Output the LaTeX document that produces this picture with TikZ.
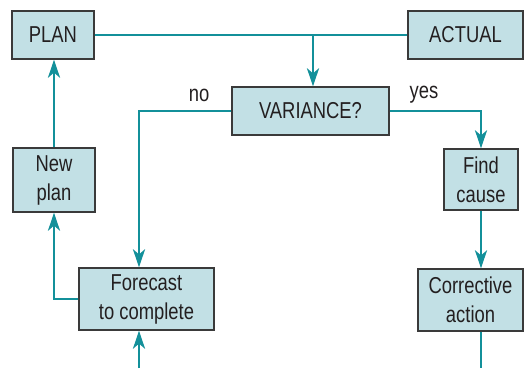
\documentclass[tikz,border=0pt]{standalone}
\usepackage{fontspec}
\setmainfont{Liberation Sans}[FakeStretch=0.8]
\usepackage{tikz}
\usetikzlibrary{arrows.meta,positioning,calc}
\definecolor{Flow}{HTML}{13909A}
\definecolor{Box}{HTML}{C2E0E5}
\definecolor{Edge}{HTML}{3A3A3A}
\definecolor{Ink}{HTML}{231F20}
\tikzset{
  stepbox/.style={draw=Edge,fill=Box,line width=1.3pt,inner sep=0pt,align=center,text=Ink,font=\fontsize{23}{29}\selectfont},
  tag/.style={text=Ink,font=\fontsize{23}{29}\selectfont},
  flow/.style={Flow,line width=2.8pt},
  flowarrow/.style={flow,-{Stealth[length=18pt,width=12pt,inset=5pt]}}
}
\begin{document}
\begin{tikzpicture}[x=1pt,y=1pt]
        \useasboundingbox (0,0) rectangle (524,-368);
        \foreach \nm/\x/\y/\w/\h/\lab in {plan/53/-35/82/48/PLAN,actual/465.5/-35/115/48/ACTUAL,variance/310.5/-111/157/48/VARIANCE?,newplan/54/-180/82/64/{New\\plan},findcause/481/-179.5/74/61/{Find\\cause},forecast/146.5/-299/135/62/{Forecast\\to complete},corrective/470.5/-300/105/62/{Corrective\\action}}{
          \node[stepbox,minimum width=\w,minimum height=\h] (\nm) at (\x,\y) {\lab};
        }
        \node[tag] (no) at (199,-95) {no};
        \node[tag] (yes) at (424,-95) {yes};
        \coordinate (split) at (313,-35);
        \coordinate (inflow) at (139,-368);
        \coordinate (outflow) at (481,-368);
        \draw[flow] (plan.east) -- (actual.west);
        \draw[flowarrow] (split) -- (split |- variance.north);
        \draw[flowarrow] (variance.west) -| (inflow |- forecast.north);
        \draw[flowarrow] (variance.east) -| (findcause.north);
        \draw[flowarrow] (newplan.north) -- (newplan.north |- plan.south);
        \draw[flowarrow] (forecast.west) -| (newplan.south);
        \draw[flowarrow] (inflow) -- (inflow |- forecast.south);
        \draw[flowarrow] (findcause.south) -- (findcause.south |- corrective.north);
        \draw[flow] (outflow |- corrective.south) -- (outflow);
      \end{tikzpicture}
\end{document}
